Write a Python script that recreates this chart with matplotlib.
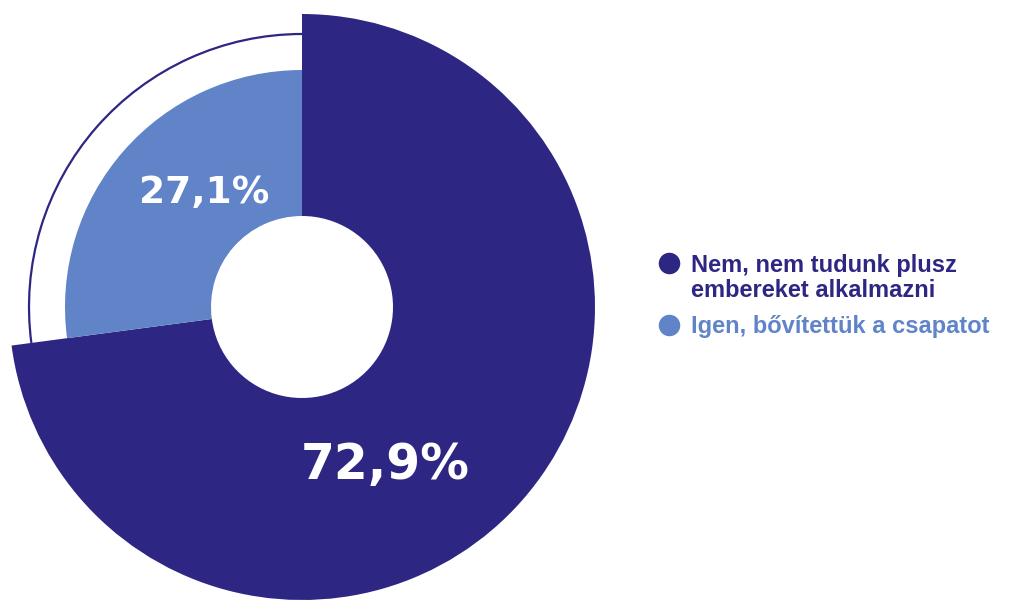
import matplotlib.pyplot as plt
from matplotlib.patches import Arc

# Data
labels = ["Nem, nem tudunk plusz\nembereket alkalmazni", "Igen, bővítettük a csapatot"]
values = [72.9, 27.1]
value_labels = ["72,9%", "27,1%"]
colors = ["#2e2683", "#6184c8"]

W, H = 1014, 601
fig = plt.figure(figsize=(W / 100, H / 100), dpi=100)
ax = fig.add_axes([0, 0, 1, 1])

cx, cy = 302, H - 307
hole = 91
r_big, r_small = 293, 237

# dark slice big, light slice smaller
ax.pie(values, radius=r_big, center=(cx, cy), startangle=90, counterclock=False,
       colors=[colors[0], "none"], wedgeprops=dict(width=r_big - hole, linewidth=0))
ax.pie(values, radius=r_small, center=(cx, cy), startangle=90, counterclock=False,
       colors=["none", colors[1]], wedgeprops=dict(width=r_small - hole, linewidth=0))
ax.set_xlim(0, W)
ax.set_ylim(0, H)
ax.set_aspect("equal")
ax.axis("off")

# thin outline arc around the light slice
end_angle = 90 - values[0] / sum(values) * 360 + 360
ax.add_patch(Arc((cx, cy), 2 * 273, 2 * 273, theta1=90, theta2=end_angle,
                 color=colors[0], lw=1.6))

# value labels
ax.text(385, H - 465, value_labels[0], color="white", fontsize=35, fontweight="bold",
        ha="center", va="center")
ax.text(204, H - 193, value_labels[1], color="white", fontsize=27, fontweight="bold",
        ha="center", va="center")

# legend
leg_y = [H - 263, H - 325]
for col, y in zip(colors, leg_y):
    ax.scatter([669], [y], s=240, color=col, linewidths=0, zorder=3)
# multi-line text: baseline refers to the last line
ax.text(691, H - 297, labels[0], color=colors[0], fontsize=17, fontweight="bold",
        family="Liberation Sans", va="baseline", ha="left", linespacing=1.12)
ax.text(691, H - 333, labels[1], color=colors[1], fontsize=17, fontweight="bold",
        family="Liberation Sans", va="baseline", ha="left")

fig.savefig("out.png", dpi=100)
